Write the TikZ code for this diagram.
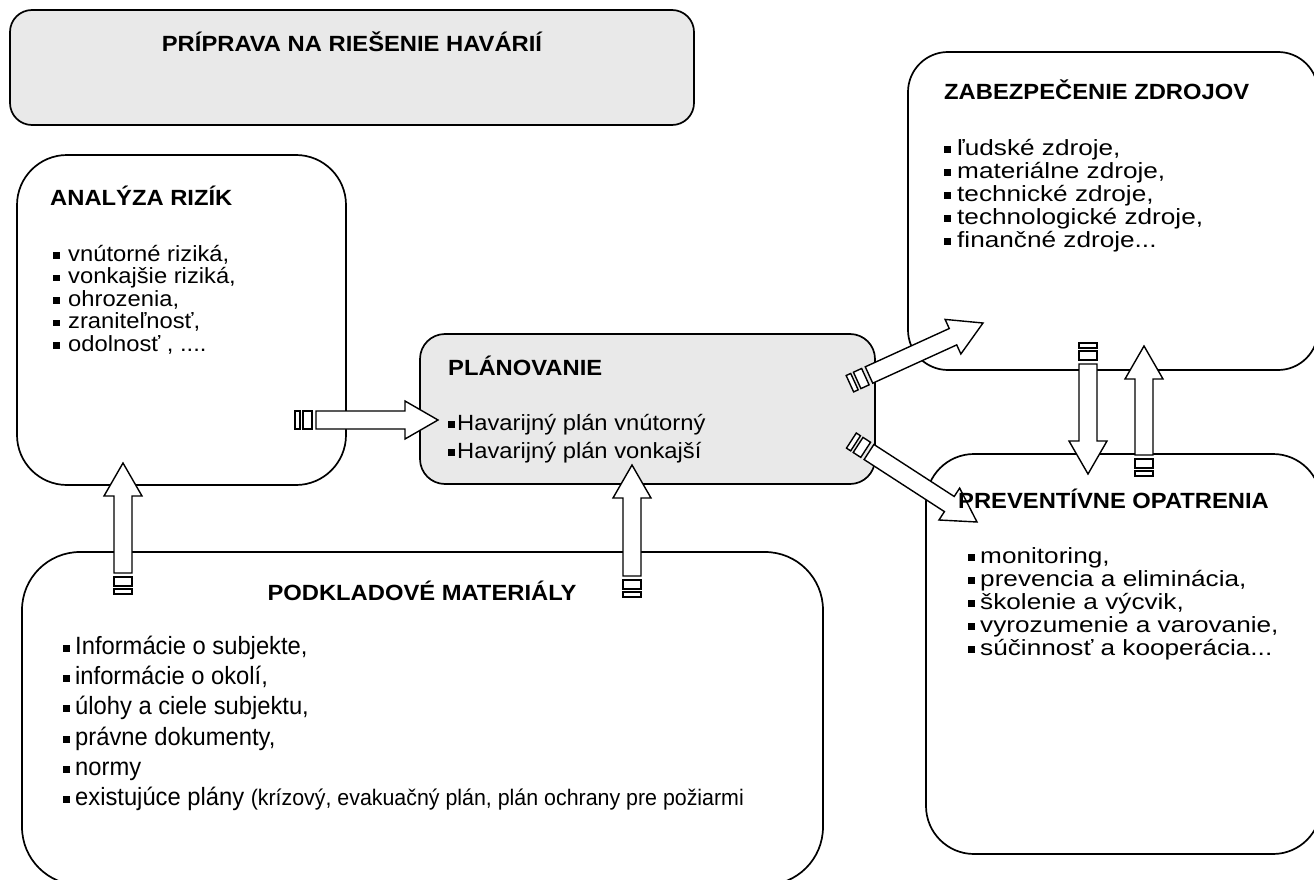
\documentclass[tikz,border=0pt]{standalone}
\usepackage{fontspec}
\setmainfont{Liberation Sans}
\newfontfamily\mainf[FakeStretch=1.08]{Liberation Sans}
\newfontfamily\widef[FakeStretch=1.19]{Liberation Sans}
\newfontfamily\narf[FakeStretch=0.95]{Liberation Sans}
\usetikzlibrary{calc}
\definecolor{boxgray}{RGB}{233,233,233}
\newcommand\bul[1]{\makebox[#1][l]{\rule[2.4pt]{6.5pt}{6.5pt}}}
\newcommand\sarrow[2]{%
  \path let \p1=($(#2)-(#1)$) in \pgfextra{\pgfmathsetmacro\tmpa{atan2(\y1,\x1)}\global\let\arrang\tmpa\pgfmathsetmacro\tmpl{veclen(\x1,\y1)}\global\let\arrlen\tmpl};
  \begin{scope}[shift={(#1)},rotate=\arrang,x=1pt,y=1pt]
    \draw[arrline] (0,-9) -- ({\arrlen-33},-9) -- ({\arrlen-33},-19) -- (\arrlen,0) -- ({\arrlen-33},19) -- ({\arrlen-33},9) -- (0,9) -- cycle;
    \draw[arrline] (-4,-9) rectangle (-13,9);
    \draw[arrline] (-16,-9) rectangle (-21,9);
  \end{scope}}
\begin{document}
\begin{tikzpicture}[x=1pt,y=-1pt,
  bx/.style={draw=black,line width=1.7pt,inner sep=0pt,anchor=center},
  arrline/.style={draw=black,fill=white,line width=1.4pt,line join=miter},
  ttl/.style={anchor=base west,inner sep=0pt,font=\mainf\bfseries\fontsize{22}{23}\selectfont},
  itm/.style={anchor=base west,inner sep=0pt,font=\mainf\fontsize{22}{23}\selectfont},
  ritm/.style={anchor=base west,inner sep=0pt,font=\widef\fontsize{22}{23}\selectfont},
  nitm/.style={anchor=base west,inner sep=0pt,font=\narf\fontsize{25}{26}\selectfont}]
\useasboundingbox (0,0) rectangle (1314,880);
\fill[white] (0,0) rectangle (1314,880);
\clip (0,0) rectangle (1314,880);
% boxes
\node[bx,fill=boxgray,rounded corners=22,minimum width=684,minimum height=115] (prip) at (352,67.5) {};
\node[bx,fill=white,rounded corners=50,minimum width=329,minimum height=330] (anal) at (181.5,320) {};
\node[bx,fill=white,rounded corners=58,minimum width=801,minimum height=333] (podk) at (422.5,718.5) {};
\node[bx,fill=boxgray,rounded corners=25,minimum width=455,minimum height=150] (plan) at (647.5,409) {};
\node[bx,fill=white,rounded corners=40,minimum width=410,minimum height=318] (zab) at (1113,211) {};
\node[bx,fill=white,rounded corners=48,minimum width=395,minimum height=400] (prev) at (1123.5,654) {};
% arrow end points
\coordinate (ha) at (316,420); \coordinate (hb) at (438,420);
\coordinate (la) at (123,573); \coordinate (lb) at (123,463);
\coordinate (ma) at (632,576); \coordinate (mb) at (632,465);
\coordinate (ua) at (869,375); \coordinate (ub) at (983,323);
\coordinate (da) at (869,452); \coordinate (db) at (977,522);
\coordinate (ra) at (1088,364); \coordinate (rb) at (1088,474);
\coordinate (sa) at (1144,455); \coordinate (sb) at (1144,346);
\sarrow{ha}{hb}
\sarrow{la}{lb}
\sarrow{ma}{mb}
\sarrow{ua}{ub}
\sarrow{da}{db}
\sarrow{ra}{rb}
\sarrow{sa}{sb}
% texts
\node[ttl,anchor=base] (tprip) at (352,52) {PRÍPRAVA NA RIEŠENIE HAVÁRIÍ};
\node[ttl] (tanal) at (50,205) {ANALÝZA RIZÍK};
\node[itm] (anal1) at (53,261) {\bul{15pt}vnútorné riziká,};
\node[itm] (anal2) at (53,283.5) {\bul{15pt}vonkajšie riziká,};
\node[itm] (anal3) at (53,306) {\bul{15pt}ohrozenia,};
\node[itm] (anal4) at (53,328.5) {\bul{15pt}zraniteľnosť,};
\node[itm] (anal5) at (53,351) {\bul{15pt}odolnosť , ....};
\node[ttl] (tplan) at (448,375) {PLÁNOVANIE};
\node[itm] (plan1) at (448,430) {\bul{9pt}Havarijný plán vnútorný};
\node[itm] (plan2) at (448,458) {\bul{9pt}Havarijný plán vonkajší};
\node[ttl] (tzab) at (944,100) {ZABEZPEČENIE ZDROJOV};
\node[ritm] (zab1) at (944,155) {\bul{13pt}ľudské zdroje,};
\node[ritm] (zab2) at (944,178) {\bul{13pt}materiálne zdroje,};
\node[ritm] (zab3) at (944,201) {\bul{13pt}technické zdroje,};
\node[ritm] (zab4) at (944,224) {\bul{13pt}technologické zdroje,};
\node[ritm] (zab5) at (944,247) {\bul{13pt}finančné zdroje...};
\node[ttl] (tprev) at (958,508) {PREVENTÍVNE OPATRENIA};
\node[ritm] (prev1) at (968,563) {\bul{12pt}monitoring,};
\node[ritm] (prev2) at (968,586) {\bul{12pt}prevencia a eliminácia,};
\node[ritm] (prev3) at (968,609) {\bul{12pt}školenie a výcvik,};
\node[ritm] (prev4) at (968,632) {\bul{12pt}vyrozumenie a varovanie,};
\node[ritm] (prev5) at (968,655) {\bul{12pt}súčinnosť a kooperácia...};
\node[ttl,anchor=base] (tpodk) at (422,600) {PODKLADOVÉ MATERIÁLY};
\node[nitm] (podk1) at (63,654) {\bul{12pt}Informácie o subjekte,};
\node[nitm] (podk2) at (63,684) {\bul{12pt}informácie o okolí,};
\node[nitm] (podk3) at (63,714) {\bul{12pt}úlohy a ciele subjektu,};
\node[nitm] (podk4) at (63,745) {\bul{12pt}právne dokumenty,};
\node[nitm] (podk5) at (63,775) {\bul{12pt}normy};
\node[nitm] (podk6) at (63,805) {\bul{12pt}existujúce plány {\fontsize{22.5}{23}\selectfont(krízový, evakuačný plán, plán ochrany pre požiarmi}};
\end{tikzpicture}
\end{document}
